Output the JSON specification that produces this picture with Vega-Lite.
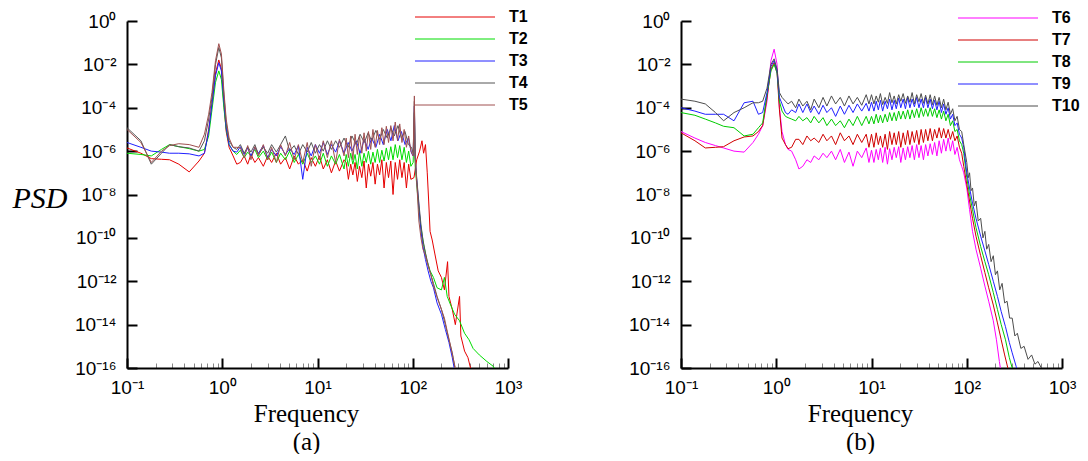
{
"$schema": "https://vega.github.io/schema/vega-lite/v6.json",
"background": "white",
"padding": {"left": 12, "top": 8, "right": 0, "bottom": 0},
"config": {"view": {"stroke": null}, "font": "Liberation Sans"},
"datasets": {
"a": [
{"s":"T1","f":0.1,"p":1.4e-6},{"s":"T1","f":0.14,"p":8e-7},{"s":"T1","f":0.18,"p":4.5e-7},{"s":"T1","f":0.23,"p":4.2e-7},{"s":"T1","f":0.28,"p":4e-7},{"s":"T1","f":0.35,"p":2.5e-7},{"s":"T1","f":0.45,"p":1.1e-7},{"s":"T1","f":0.57,"p":3.5e-7},{"s":"T1","f":0.65,"p":8e-7},{"s":"T1","f":0.72,"p":1e-5},{"s":"T1","f":0.78,"p":1.5e-4},{"s":"T1","f":0.85,"p":4e-3},{"s":"T1","f":0.92,"p":1.6e-2},{"s":"T1","f":0.98,"p":6e-3},{"s":"T1","f":1.04,"p":1.5e-4},{"s":"T1","f":1.1,"p":8e-6},{"s":"T1","f":1.18,"p":1.5e-6},{"s":"T1","f":1.3,"p":6e-7},{"s":"T1","f":1.42,"p":2.5e-7},{"s":"T1","f":1.55,"p":3e-7},{"s":"T1","f":1.7,"p":6e-7},{"s":"T1","f":1.85,"p":2.5e-7},{"s":"T1","f":2.0,"p":7e-7},{"s":"T1","f":2.2,"p":3e-7},{"s":"T1","f":2.4,"p":5e-7},{"s":"T1","f":2.7,"p":2e-7},{"s":"T1","f":3.0,"p":6e-7},{"s":"T1","f":3.3,"p":3e-7},{"s":"T1","f":3.7,"p":8e-7},{"s":"T1","f":4.1,"p":2.5e-7},{"s":"T1","f":4.6,"p":5e-7},{"s":"T1","f":5.1,"p":1.5e-7},{"s":"T1","f":5.7,"p":6e-7},{"s":"T1","f":6.3,"p":2.5e-7},{"s":"T1","f":7.0,"p":4e-7},{"s":"T1","f":7.8,"p":1.2e-7},{"s":"T1","f":8.6,"p":5e-7},{"s":"T1","f":9.5,"p":2e-7},{"s":"T1","f":10.5,"p":6e-7},{"s":"T1","f":11.5,"p":1.5e-7},{"s":"T1","f":12.7,"p":4e-7},{"s":"T1","f":14,"p":1e-7},{"s":"T1","f":15.5,"p":3.5e-7},{"s":"T1","f":17,"p":1.2e-7},{"s":"T1","f":19,"p":4e-7},
{"s":"T1","f":20,"p":3e-7},{"s":"T1","f":21.1,"p":5e-8},{"s":"T1","f":22.3,"p":2.5e-7},{"s":"T1","f":23.5,"p":8e-8},{"s":"T1","f":24.8,"p":3e-7},{"s":"T1","f":26.2,"p":4e-8},{"s":"T1","f":27.6,"p":2e-7},{"s":"T1","f":29.2,"p":6e-8},{"s":"T1","f":30.8,"p":3.5e-7},{"s":"T1","f":32.5,"p":2e-8},{"s":"T1","f":34.3,"p":2.5e-7},{"s":"T1","f":36.2,"p":7e-8},{"s":"T1","f":38.2,"p":3e-7},{"s":"T1","f":40.3,"p":3e-8},{"s":"T1","f":42.6,"p":2.5e-7},{"s":"T1","f":44.9,"p":8e-8},{"s":"T1","f":47.4,"p":4e-7},{"s":"T1","f":50,"p":2e-8},{"s":"T1","f":52.8,"p":3e-7},{"s":"T1","f":55.7,"p":6e-8},{"s":"T1","f":58.8,"p":3.5e-7},{"s":"T1","f":62.1,"p":1e-8},{"s":"T1","f":65.5,"p":3e-7},{"s":"T1","f":69.2,"p":5e-8},{"s":"T1","f":73,"p":4e-7},{"s":"T1","f":77,"p":6e-8},{"s":"T1","f":81.3,"p":3e-7},{"s":"T1","f":85.8,"p":2e-8},{"s":"T1","f":90.6,"p":2.5e-7},{"s":"T1","f":95.6,"p":5e-8},
{"s":"T1","f":103,"p":6e-8},{"s":"T1","f":110,"p":4e-7},{"s":"T1","f":118,"p":1e-6},{"s":"T1","f":125,"p":3e-6},{"s":"T1","f":130,"p":8e-7},{"s":"T1","f":136,"p":2e-6},{"s":"T1","f":142,"p":1e-7},{"s":"T1","f":147,"p":5e-9},{"s":"T1","f":152,"p":2e-10},{"s":"T1","f":160,"p":8e-11},{"s":"T1","f":170,"p":2e-11},{"s":"T1","f":185,"p":3e-12},{"s":"T1","f":200,"p":1.5e-12},{"s":"T1","f":215,"p":4e-13},{"s":"T1","f":232,"p":8e-12},{"s":"T1","f":240,"p":2e-13},{"s":"T1","f":260,"p":5e-14},{"s":"T1","f":280,"p":1e-14},{"s":"T1","f":310,"p":2e-13},{"s":"T1","f":320,"p":3e-15},{"s":"T1","f":350,"p":6e-16},{"s":"T1","f":380,"p":3e-16},{"s":"T1","f":420,"p":5e-17},
{"s":"T2","f":0.1,"p":8e-7},{"s":"T2","f":0.14,"p":7e-7},{"s":"T2","f":0.18,"p":6e-7},{"s":"T2","f":0.23,"p":1.2e-6},{"s":"T2","f":0.28,"p":2e-6},{"s":"T2","f":0.35,"p":1.6e-6},{"s":"T2","f":0.45,"p":1.3e-6},{"s":"T2","f":0.57,"p":1e-6},{"s":"T2","f":0.65,"p":1.2e-6},{"s":"T2","f":0.72,"p":5e-6},{"s":"T2","f":0.78,"p":8e-5},{"s":"T2","f":0.85,"p":1.5e-3},{"s":"T2","f":0.92,"p":5e-3},{"s":"T2","f":0.98,"p":2e-3},{"s":"T2","f":1.04,"p":1e-4},{"s":"T2","f":1.1,"p":1e-5},{"s":"T2","f":1.18,"p":2e-6},{"s":"T2","f":1.3,"p":1e-6},{"s":"T2","f":1.42,"p":7e-7},{"s":"T2","f":1.55,"p":1.1e-6},{"s":"T2","f":1.7,"p":5e-7},{"s":"T2","f":1.85,"p":9e-7},{"s":"T2","f":2.0,"p":6e-7},{"s":"T2","f":2.2,"p":1.2e-6},{"s":"T2","f":2.4,"p":5e-7},{"s":"T2","f":2.7,"p":1e-6},{"s":"T2","f":3.0,"p":4e-7},{"s":"T2","f":3.3,"p":9e-7},{"s":"T2","f":3.7,"p":3e-7},{"s":"T2","f":4.1,"p":8e-7},{"s":"T2","f":4.6,"p":4e-7},{"s":"T2","f":5.1,"p":1e-6},{"s":"T2","f":5.7,"p":3e-7},{"s":"T2","f":6.3,"p":7e-7},{"s":"T2","f":7.0,"p":2.5e-7},{"s":"T2","f":7.8,"p":8e-7},{"s":"T2","f":8.6,"p":3e-7},{"s":"T2","f":9.5,"p":6e-7},{"s":"T2","f":10.5,"p":2.5e-7},{"s":"T2","f":11.5,"p":8e-7},{"s":"T2","f":12.7,"p":2e-7},{"s":"T2","f":14,"p":6e-7},{"s":"T2","f":15.5,"p":2.5e-7},{"s":"T2","f":17,"p":7e-7},{"s":"T2","f":19,"p":1.5e-7},
{"s":"T2","f":20,"p":7e-7},{"s":"T2","f":21.1,"p":2e-7},{"s":"T2","f":22.3,"p":8e-7},{"s":"T2","f":23.5,"p":2.5e-7},{"s":"T2","f":24.8,"p":7e-7},{"s":"T2","f":26.2,"p":1.5e-7},{"s":"T2","f":27.6,"p":9e-7},{"s":"T2","f":29.2,"p":2e-7},{"s":"T2","f":30.8,"p":8e-7},{"s":"T2","f":32.5,"p":3e-7},{"s":"T2","f":34.3,"p":1e-6},{"s":"T2","f":36.2,"p":2.5e-7},{"s":"T2","f":38.2,"p":9e-7},{"s":"T2","f":40.3,"p":3e-7},{"s":"T2","f":42.6,"p":1.2e-6},{"s":"T2","f":44.9,"p":3e-7},{"s":"T2","f":47.4,"p":1.1e-6},{"s":"T2","f":50,"p":3.5e-7},{"s":"T2","f":52.8,"p":1.4e-6},{"s":"T2","f":55.7,"p":4e-7},{"s":"T2","f":58.8,"p":1.6e-6},{"s":"T2","f":62.1,"p":4e-7},{"s":"T2","f":65.5,"p":2e-6},{"s":"T2","f":69.2,"p":5e-7},{"s":"T2","f":73,"p":1.8e-6},{"s":"T2","f":77,"p":4e-7},{"s":"T2","f":81.3,"p":1.5e-6},{"s":"T2","f":85.8,"p":3e-7},{"s":"T2","f":90.6,"p":1e-6},{"s":"T2","f":95.6,"p":2e-7},
{"s":"T2","f":101,"p":3e-7},{"s":"T2","f":104,"p":6e-5},{"s":"T2","f":106,"p":2e-7},{"s":"T2","f":110,"p":3e-8},{"s":"T2","f":116,"p":2e-9},{"s":"T2","f":122,"p":3e-10},{"s":"T2","f":130,"p":5e-11},{"s":"T2","f":140,"p":1e-11},{"s":"T2","f":152,"p":3e-12},{"s":"T2","f":165,"p":1.5e-12},{"s":"T2","f":180,"p":5e-13},{"s":"T2","f":200,"p":4e-13},{"s":"T2","f":215,"p":1.5e-12},{"s":"T2","f":230,"p":2e-13},{"s":"T2","f":250,"p":8e-14},{"s":"T2","f":275,"p":3e-14},{"s":"T2","f":310,"p":1.5e-14},{"s":"T2","f":350,"p":4e-15},{"s":"T2","f":390,"p":2e-15},{"s":"T2","f":430,"p":8e-16},{"s":"T2","f":500,"p":4e-16},{"s":"T2","f":600,"p":2e-16},{"s":"T2","f":700,"p":1.2e-16},{"s":"T2","f":780,"p":5e-17},
{"s":"T3","f":0.1,"p":2.5e-6},{"s":"T3","f":0.14,"p":1.5e-6},{"s":"T3","f":0.18,"p":1e-6},{"s":"T3","f":0.23,"p":9e-7},{"s":"T3","f":0.28,"p":8e-7},{"s":"T3","f":0.35,"p":8e-7},{"s":"T3","f":0.45,"p":7.5e-7},{"s":"T3","f":0.57,"p":6e-7},{"s":"T3","f":0.65,"p":8e-7},{"s":"T3","f":0.72,"p":8e-6},{"s":"T3","f":0.78,"p":1.5e-4},{"s":"T3","f":0.85,"p":3e-3},{"s":"T3","f":0.92,"p":1.2e-2},{"s":"T3","f":0.98,"p":5e-3},{"s":"T3","f":1.04,"p":2e-4},{"s":"T3","f":1.1,"p":1.2e-5},{"s":"T3","f":1.18,"p":2e-6},{"s":"T3","f":1.3,"p":1e-6},{"s":"T3","f":1.42,"p":9e-7},{"s":"T3","f":1.55,"p":1.6e-6},{"s":"T3","f":1.7,"p":7e-7},{"s":"T3","f":1.85,"p":1.4e-6},{"s":"T3","f":2.0,"p":6e-7},{"s":"T3","f":2.2,"p":1.5e-6},{"s":"T3","f":2.4,"p":8e-7},{"s":"T3","f":2.7,"p":1.8e-6},{"s":"T3","f":3.0,"p":5e-7},{"s":"T3","f":3.3,"p":1.2e-6},{"s":"T3","f":3.7,"p":6e-7},{"s":"T3","f":4.1,"p":1.6e-6},{"s":"T3","f":4.6,"p":7e-7},{"s":"T3","f":5.1,"p":1.3e-6},{"s":"T3","f":5.7,"p":7e-7},{"s":"T3","f":6.3,"p":1.8e-6},{"s":"T3","f":7.0,"p":5e-8},{"s":"T3","f":7.8,"p":1.5e-6},{"s":"T3","f":8.6,"p":6e-7},{"s":"T3","f":9.5,"p":2e-6},{"s":"T3","f":10.5,"p":8e-7},{"s":"T3","f":11.5,"p":2.5e-6},{"s":"T3","f":12.7,"p":7e-7},{"s":"T3","f":14,"p":2e-6},{"s":"T3","f":15.5,"p":9e-7},{"s":"T3","f":17,"p":3e-6},{"s":"T3","f":19,"p":8e-7},{"s":"T3","f":21,"p":2.5e-6},{"s":"T3","f":23,"p":1e-6},{"s":"T3","f":25.5,"p":3e-6},{"s":"T3","f":28,"p":8e-7},{"s":"T3","f":31,"p":3.5e-6},{"s":"T3","f":34,"p":1.2e-6},{"s":"T3","f":37,"p":4e-6},{"s":"T3","f":41,"p":1.5e-6},{"s":"T3","f":45,"p":6e-6},{"s":"T3","f":49,"p":2e-6},{"s":"T3","f":54,"p":1e-5},{"s":"T3","f":59,"p":3e-6},{"s":"T3","f":64,"p":1.5e-5},{"s":"T3","f":70,"p":3e-6},{"s":"T3","f":76,"p":8e-6},{"s":"T3","f":83,"p":2e-6},{"s":"T3","f":90,"p":4e-6},{"s":"T3","f":97,"p":8e-7},{"s":"T3","f":101,"p":6e-7},{"s":"T3","f":104,"p":1.2e-4},{"s":"T3","f":106,"p":5e-7},{"s":"T3","f":110,"p":5e-8},{"s":"T3","f":116,"p":3e-9},{"s":"T3","f":122,"p":2e-10},{"s":"T3","f":128,"p":4e-11},{"s":"T3","f":136,"p":1e-11},{"s":"T3","f":145,"p":3e-12},{"s":"T3","f":155,"p":1e-12},{"s":"T3","f":165,"p":5e-13},{"s":"T3","f":180,"p":1e-13},{"s":"T3","f":200,"p":3e-14},{"s":"T3","f":220,"p":6e-15},{"s":"T3","f":240,"p":1.5e-15},{"s":"T3","f":260,"p":3e-16},{"s":"T3","f":280,"p":5e-17},
{"s":"T4","f":0.1,"p":1.2e-5},{"s":"T4","f":0.14,"p":3e-6},{"s":"T4","f":0.18,"p":2.5e-7},{"s":"T4","f":0.23,"p":8e-7},{"s":"T4","f":0.28,"p":2e-6},{"s":"T4","f":0.35,"p":1.6e-6},{"s":"T4","f":0.45,"p":1.4e-6},{"s":"T4","f":0.57,"p":1e-6},{"s":"T4","f":0.65,"p":3e-6},{"s":"T4","f":0.72,"p":3e-5},{"s":"T4","f":0.78,"p":3e-4},{"s":"T4","f":0.85,"p":1e-2},{"s":"T4","f":0.92,"p":6e-2},{"s":"T4","f":0.98,"p":2e-2},{"s":"T4","f":1.04,"p":4e-4},{"s":"T4","f":1.1,"p":2e-5},{"s":"T4","f":1.18,"p":3e-6},{"s":"T4","f":1.3,"p":1.5e-6},{"s":"T4","f":1.42,"p":1.2e-6},{"s":"T4","f":1.55,"p":2e-6},{"s":"T4","f":1.7,"p":8e-7},{"s":"T4","f":1.85,"p":1.6e-6},{"s":"T4","f":2.0,"p":9e-7},{"s":"T4","f":2.2,"p":2e-6},{"s":"T4","f":2.4,"p":7e-7},{"s":"T4","f":2.7,"p":1.5e-6},{"s":"T4","f":3.0,"p":8e-7},{"s":"T4","f":3.3,"p":2e-6},{"s":"T4","f":3.7,"p":9e-7},{"s":"T4","f":4.1,"p":2e-6},{"s":"T4","f":4.6,"p":5e-6},{"s":"T4","f":5.1,"p":1e-6},{"s":"T4","f":5.7,"p":1.8e-6},{"s":"T4","f":6.3,"p":7e-7},{"s":"T4","f":7.0,"p":2e-6},{"s":"T4","f":7.8,"p":9e-7},{"s":"T4","f":8.6,"p":2.5e-6},{"s":"T4","f":9.5,"p":8e-7},{"s":"T4","f":10.5,"p":2e-6},{"s":"T4","f":11.5,"p":1e-6},{"s":"T4","f":12.7,"p":3e-6},{"s":"T4","f":14,"p":1.2e-6},{"s":"T4","f":15.5,"p":3e-6},{"s":"T4","f":17,"p":1.5e-6},{"s":"T4","f":19,"p":4e-6},{"s":"T4","f":21,"p":1.5e-6},{"s":"T4","f":23,"p":5e-6},{"s":"T4","f":25.5,"p":2e-6},{"s":"T4","f":28,"p":6e-6},{"s":"T4","f":31,"p":2.5e-6},{"s":"T4","f":34,"p":7e-6},{"s":"T4","f":37,"p":3e-6},{"s":"T4","f":41,"p":9e-6},{"s":"T4","f":45,"p":3.5e-6},{"s":"T4","f":49,"p":1e-5},{"s":"T4","f":54,"p":4e-6},{"s":"T4","f":59,"p":1.2e-5},{"s":"T4","f":64,"p":5e-6},{"s":"T4","f":70,"p":1.5e-5},{"s":"T4","f":76,"p":4e-6},{"s":"T4","f":83,"p":8e-6},{"s":"T4","f":90,"p":2e-6},{"s":"T4","f":97,"p":1.5e-6},{"s":"T4","f":101,"p":8e-7},{"s":"T4","f":104,"p":2e-4},{"s":"T4","f":106,"p":6e-7},{"s":"T4","f":110,"p":6e-8},{"s":"T4","f":116,"p":4e-9},{"s":"T4","f":122,"p":4e-10},{"s":"T4","f":128,"p":8e-11},{"s":"T4","f":136,"p":2e-11},{"s":"T4","f":145,"p":6e-12},{"s":"T4","f":155,"p":2e-12},{"s":"T4","f":165,"p":8e-13},{"s":"T4","f":180,"p":2e-13},{"s":"T4","f":200,"p":5e-14},{"s":"T4","f":220,"p":1e-14},{"s":"T4","f":240,"p":2e-15},{"s":"T4","f":260,"p":5e-16},{"s":"T4","f":285,"p":5e-17},
{"s":"T5","f":0.1,"p":1e-5},{"s":"T5","f":0.14,"p":2.5e-6},{"s":"T5","f":0.18,"p":3e-7},{"s":"T5","f":0.23,"p":1e-6},{"s":"T5","f":0.28,"p":1.8e-6},{"s":"T5","f":0.35,"p":2.2e-6},{"s":"T5","f":0.45,"p":2e-6},{"s":"T5","f":0.57,"p":1.5e-6},{"s":"T5","f":0.65,"p":6e-6},{"s":"T5","f":0.72,"p":5e-5},{"s":"T5","f":0.78,"p":5e-4},{"s":"T5","f":0.85,"p":1.5e-2},{"s":"T5","f":0.92,"p":9e-2},{"s":"T5","f":0.98,"p":3e-2},{"s":"T5","f":1.04,"p":6e-4},{"s":"T5","f":1.1,"p":3e-5},{"s":"T5","f":1.18,"p":4e-6},{"s":"T5","f":1.3,"p":1.5e-6},{"s":"T5","f":1.42,"p":1.5e-6},{"s":"T5","f":1.55,"p":1.4e-6},{"s":"T5","f":1.7,"p":5e-7},{"s":"T5","f":1.85,"p":1.8e-6},{"s":"T5","f":2.0,"p":4e-7},{"s":"T5","f":2.2,"p":1.6e-6},{"s":"T5","f":2.4,"p":6e-7},{"s":"T5","f":2.7,"p":2e-6},{"s":"T5","f":3.0,"p":4e-7},{"s":"T5","f":3.3,"p":1.5e-6},{"s":"T5","f":3.7,"p":3e-7},{"s":"T5","f":4.1,"p":2e-6},{"s":"T5","f":4.6,"p":6e-7},{"s":"T5","f":5.1,"p":2.5e-6},{"s":"T5","f":5.7,"p":4e-7},{"s":"T5","f":6.3,"p":2e-6},{"s":"T5","f":7.0,"p":3e-7},{"s":"T5","f":7.8,"p":2.5e-6},{"s":"T5","f":8.6,"p":2e-7},{"s":"T5","f":9.5,"p":2e-6},{"s":"T5","f":10.5,"p":4e-7},{"s":"T5","f":11.5,"p":3e-6},{"s":"T5","f":12.7,"p":5e-7},{"s":"T5","f":14,"p":3e-6},{"s":"T5","f":15.5,"p":3e-7},{"s":"T5","f":17,"p":3.5e-6},{"s":"T5","f":19,"p":6e-7},
{"s":"T5","f":20,"p":4e-6},{"s":"T5","f":21.1,"p":5e-7},{"s":"T5","f":22.3,"p":5e-6},{"s":"T5","f":23.5,"p":4e-7},{"s":"T5","f":24.8,"p":6e-6},{"s":"T5","f":26.2,"p":7e-7},{"s":"T5","f":27.6,"p":5e-6},{"s":"T5","f":29.2,"p":8e-7},{"s":"T5","f":30.8,"p":7e-6},{"s":"T5","f":32.5,"p":1e-6},{"s":"T5","f":34.3,"p":8e-6},{"s":"T5","f":36.2,"p":1.2e-6},{"s":"T5","f":38.2,"p":1e-5},{"s":"T5","f":40.3,"p":1.5e-6},{"s":"T5","f":42.6,"p":9e-6},{"s":"T5","f":44.9,"p":2e-6},{"s":"T5","f":47.4,"p":1.2e-5},{"s":"T5","f":50,"p":2e-6},{"s":"T5","f":52.8,"p":1.4e-5},{"s":"T5","f":55.7,"p":2.5e-6},{"s":"T5","f":58.8,"p":1.5e-5},{"s":"T5","f":62.1,"p":3e-6},{"s":"T5","f":65.5,"p":2.2e-5},{"s":"T5","f":69.2,"p":3e-6},{"s":"T5","f":73,"p":1.8e-5},{"s":"T5","f":77,"p":2.5e-6},{"s":"T5","f":81.3,"p":1e-5},{"s":"T5","f":85.8,"p":1.5e-6},{"s":"T5","f":90.6,"p":5e-6},{"s":"T5","f":95.6,"p":1e-6},
{"s":"T5","f":101,"p":6e-7},{"s":"T5","f":104,"p":3.5e-4},{"s":"T5","f":106,"p":5e-7},{"s":"T5","f":110,"p":4e-8},{"s":"T5","f":116,"p":6e-10},{"s":"T5","f":122,"p":1e-10},{"s":"T5","f":128,"p":3e-11},{"s":"T5","f":136,"p":1.5e-11},{"s":"T5","f":145,"p":5e-12},{"s":"T5","f":155,"p":2e-12},{"s":"T5","f":165,"p":6e-13},{"s":"T5","f":182,"p":1.6e-13},{"s":"T5","f":200,"p":5e-14},{"s":"T5","f":215,"p":2e-14},{"s":"T5","f":230,"p":5e-15},{"s":"T5","f":250,"p":1e-15},{"s":"T5","f":265,"p":3e-16},{"s":"T5","f":280,"p":1e-16},{"s":"T5","f":295,"p":3e-17}
],
"b": [
{"s":"T6","f":0.1,"p":8e-6},{"s":"T6","f":0.14,"p":4e-6},{"s":"T6","f":0.18,"p":2.5e-6},{"s":"T6","f":0.23,"p":1.8e-6},{"s":"T6","f":0.28,"p":1.4e-6},{"s":"T6","f":0.36,"p":1e-6},{"s":"T6","f":0.46,"p":9e-7},{"s":"T6","f":0.57,"p":2.5e-6},{"s":"T6","f":0.65,"p":6e-6},{"s":"T6","f":0.72,"p":1.5e-5},{"s":"T6","f":0.8,"p":2e-4},{"s":"T6","f":0.88,"p":1.5e-2},{"s":"T6","f":0.95,"p":5e-2},{"s":"T6","f":1.02,"p":1e-2},{"s":"T6","f":1.08,"p":1e-4},{"s":"T6","f":1.15,"p":8e-6},{"s":"T6","f":1.25,"p":2e-6},{"s":"T6","f":1.33,"p":1.2e-6},{"s":"T6","f":1.45,"p":1e-6},{"s":"T6","f":1.6,"p":4e-7},{"s":"T6","f":1.73,"p":1.5e-7},{"s":"T6","f":1.9,"p":2e-7},{"s":"T6","f":2.1,"p":4e-7},{"s":"T6","f":2.3,"p":3e-7},{"s":"T6","f":2.5,"p":6e-7},{"s":"T6","f":2.8,"p":4e-7},{"s":"T6","f":3.1,"p":8e-7},{"s":"T6","f":3.4,"p":5e-7},{"s":"T6","f":3.8,"p":1e-6},{"s":"T6","f":4.2,"p":4e-7},{"s":"T6","f":4.7,"p":1.2e-6},{"s":"T6","f":5.2,"p":3e-7},{"s":"T6","f":5.8,"p":9e-7},{"s":"T6","f":6.4,"p":2e-7},{"s":"T6","f":7.1,"p":1e-6},{"s":"T6","f":7.9,"p":5e-7},{"s":"T6","f":8.8,"p":1.4e-6},{"s":"T6","f":9.4,"p":3e-7},
{"s":"T6","f":10,"p":1.1e-6},{"s":"T6","f":10.6,"p":3e-7},{"s":"T6","f":11.2,"p":1.2e-6},{"s":"T6","f":11.8,"p":4e-7},{"s":"T6","f":12.4,"p":1.4e-6},{"s":"T6","f":13.1,"p":3e-7},{"s":"T6","f":13.9,"p":1.5e-6},{"s":"T6","f":14.7,"p":2.5e-7},{"s":"T6","f":15.5,"p":1.3e-6},{"s":"T6","f":16.4,"p":4e-7},{"s":"T6","f":17.3,"p":1.5e-6},{"s":"T6","f":18.2,"p":5e-7},{"s":"T6","f":19.3,"p":1.6e-6},{"s":"T6","f":20.3,"p":3e-7},{"s":"T6","f":21.5,"p":1.4e-6},{"s":"T6","f":22.7,"p":4e-7},{"s":"T6","f":24,"p":1.6e-6},{"s":"T6","f":25.3,"p":5e-7},{"s":"T6","f":26.7,"p":1.8e-6},{"s":"T6","f":28.2,"p":4e-7},{"s":"T6","f":29.8,"p":2e-6},{"s":"T6","f":31.5,"p":5e-7},{"s":"T6","f":33.2,"p":1.8e-6},{"s":"T6","f":35.1,"p":4e-7},{"s":"T6","f":37,"p":2e-6},{"s":"T6","f":39.1,"p":6e-7},{"s":"T6","f":41.3,"p":2.2e-6},{"s":"T6","f":43.6,"p":7e-7},{"s":"T6","f":46,"p":2.5e-6},{"s":"T6","f":48.6,"p":6e-7},{"s":"T6","f":51.3,"p":3e-6},{"s":"T6","f":54.2,"p":8e-7},{"s":"T6","f":57.2,"p":3.5e-6},{"s":"T6","f":60.4,"p":1e-6},{"s":"T6","f":63.8,"p":4e-6},{"s":"T6","f":67.4,"p":1e-6},{"s":"T6","f":71.2,"p":3e-6},{"s":"T6","f":75.1,"p":7e-7},{"s":"T6","f":79.3,"p":1.5e-6},{"s":"T6","f":83.8,"p":4e-7},{"s":"T6","f":88.5,"p":2e-7},
{"s":"T6","f":93,"p":1e-7},{"s":"T6","f":100,"p":2e-8},{"s":"T6","f":107,"p":2e-9},{"s":"T6","f":115,"p":2e-10},{"s":"T6","f":125,"p":3e-11},{"s":"T6","f":140,"p":4e-12},{"s":"T6","f":155,"p":6e-13},{"s":"T6","f":170,"p":1.2e-13},{"s":"T6","f":190,"p":1.5e-14},{"s":"T6","f":205,"p":2e-15},{"s":"T6","f":220,"p":2e-16},{"s":"T6","f":235,"p":3e-17},
{"s":"T7","f":0.1,"p":7e-6},{"s":"T7","f":0.14,"p":3e-6},{"s":"T7","f":0.18,"p":1.4e-6},{"s":"T7","f":0.23,"p":1.5e-6},{"s":"T7","f":0.28,"p":1.6e-6},{"s":"T7","f":0.36,"p":3e-6},{"s":"T7","f":0.46,"p":4.5e-6},{"s":"T7","f":0.57,"p":5e-6},{"s":"T7","f":0.65,"p":8e-6},{"s":"T7","f":0.72,"p":1.5e-5},{"s":"T7","f":0.8,"p":3e-4},{"s":"T7","f":0.88,"p":6e-3},{"s":"T7","f":0.95,"p":1.2e-2},{"s":"T7","f":1.02,"p":4e-3},{"s":"T7","f":1.08,"p":8e-5},{"s":"T7","f":1.15,"p":4e-6},{"s":"T7","f":1.25,"p":2e-6},{"s":"T7","f":1.33,"p":1.3e-6},{"s":"T7","f":1.45,"p":1.5e-6},{"s":"T7","f":1.6,"p":3.5e-6},{"s":"T7","f":1.73,"p":3.5e-6},{"s":"T7","f":1.9,"p":2e-6},{"s":"T7","f":2.1,"p":5e-6},{"s":"T7","f":2.3,"p":3e-6},{"s":"T7","f":2.5,"p":4e-6},{"s":"T7","f":2.8,"p":2.5e-6},{"s":"T7","f":3.1,"p":6e-6},{"s":"T7","f":3.4,"p":3e-6},{"s":"T7","f":3.8,"p":5e-6},{"s":"T7","f":4.2,"p":2e-6},{"s":"T7","f":4.7,"p":7e-6},{"s":"T7","f":5.2,"p":3e-6},{"s":"T7","f":5.8,"p":5e-6},{"s":"T7","f":6.4,"p":2e-6},{"s":"T7","f":7.1,"p":6e-6},{"s":"T7","f":7.9,"p":2.5e-6},{"s":"T7","f":8.8,"p":6e-6},{"s":"T7","f":9.4,"p":1.5e-6},
{"s":"T7","f":10,"p":6e-6},{"s":"T7","f":10.6,"p":1.5e-6},{"s":"T7","f":11.2,"p":7e-6},{"s":"T7","f":11.8,"p":2e-6},{"s":"T7","f":12.4,"p":5e-6},{"s":"T7","f":13.1,"p":1.5e-6},{"s":"T7","f":13.9,"p":6e-6},{"s":"T7","f":14.7,"p":1.2e-6},{"s":"T7","f":15.5,"p":8e-6},{"s":"T7","f":16.4,"p":2e-6},{"s":"T7","f":17.3,"p":7e-6},{"s":"T7","f":18.2,"p":2e-6},{"s":"T7","f":19.3,"p":8e-6},{"s":"T7","f":20.3,"p":1.5e-6},{"s":"T7","f":21.5,"p":7e-6},{"s":"T7","f":22.7,"p":2e-6},{"s":"T7","f":24,"p":9e-6},{"s":"T7","f":25.3,"p":2e-6},{"s":"T7","f":26.7,"p":8e-6},{"s":"T7","f":28.2,"p":2.5e-6},{"s":"T7","f":29.8,"p":9e-6},{"s":"T7","f":31.5,"p":2e-6},{"s":"T7","f":33.2,"p":1e-5},{"s":"T7","f":35.1,"p":2.5e-6},{"s":"T7","f":37,"p":1e-5},{"s":"T7","f":39.1,"p":3e-6},{"s":"T7","f":41.3,"p":1.1e-5},{"s":"T7","f":43.6,"p":3e-6},{"s":"T7","f":46,"p":1e-5},{"s":"T7","f":48.6,"p":4e-6},{"s":"T7","f":51.3,"p":1.2e-5},{"s":"T7","f":54.2,"p":4e-6},{"s":"T7","f":57.2,"p":1.1e-5},{"s":"T7","f":60.4,"p":4e-6},{"s":"T7","f":63.8,"p":1e-5},{"s":"T7","f":67.4,"p":3.5e-6},{"s":"T7","f":71.2,"p":8e-6},{"s":"T7","f":75.1,"p":3e-6},{"s":"T7","f":79.3,"p":5e-6},{"s":"T7","f":83.8,"p":1.5e-6},{"s":"T7","f":88.5,"p":8e-7},
{"s":"T7","f":93,"p":2e-7},{"s":"T7","f":100,"p":3e-8},{"s":"T7","f":107,"p":5e-9},{"s":"T7","f":115,"p":8e-10},{"s":"T7","f":125,"p":1.2e-10},{"s":"T7","f":140,"p":1.5e-11},{"s":"T7","f":155,"p":2.5e-12},{"s":"T7","f":170,"p":5e-13},{"s":"T7","f":190,"p":8e-14},{"s":"T7","f":210,"p":1.2e-14},{"s":"T7","f":230,"p":2e-15},{"s":"T7","f":250,"p":4e-16},{"s":"T7","f":270,"p":1e-16},{"s":"T7","f":285,"p":3e-17},
{"s":"T8","f":0.1,"p":6e-5},{"s":"T8","f":0.14,"p":4.5e-5},{"s":"T8","f":0.18,"p":3e-5},{"s":"T8","f":0.23,"p":2e-5},{"s":"T8","f":0.28,"p":1.4e-5},{"s":"T8","f":0.36,"p":1.2e-5},{"s":"T8","f":0.46,"p":5e-6},{"s":"T8","f":0.57,"p":6e-6},{"s":"T8","f":0.65,"p":1.2e-5},{"s":"T8","f":0.72,"p":2e-5},{"s":"T8","f":0.8,"p":4e-4},{"s":"T8","f":0.88,"p":5e-3},{"s":"T8","f":0.95,"p":1e-2},{"s":"T8","f":1.02,"p":4e-3},{"s":"T8","f":1.08,"p":2e-4},{"s":"T8","f":1.15,"p":7e-5},{"s":"T8","f":1.25,"p":4e-5},{"s":"T8","f":1.33,"p":3.5e-5},{"s":"T8","f":1.45,"p":3e-5},{"s":"T8","f":1.6,"p":2.5e-5},{"s":"T8","f":1.73,"p":4e-5},{"s":"T8","f":1.9,"p":2.5e-5},{"s":"T8","f":2.1,"p":3.5e-5},{"s":"T8","f":2.3,"p":2e-5},{"s":"T8","f":2.5,"p":4e-5},{"s":"T8","f":2.8,"p":2e-5},{"s":"T8","f":3.1,"p":3.5e-5},{"s":"T8","f":3.4,"p":1.5e-5},{"s":"T8","f":3.8,"p":3e-5},{"s":"T8","f":4.2,"p":1.5e-5},{"s":"T8","f":4.7,"p":2.5e-5},{"s":"T8","f":5.2,"p":1.2e-5},{"s":"T8","f":5.8,"p":3e-5},{"s":"T8","f":6.4,"p":1.5e-5},{"s":"T8","f":7.1,"p":4e-5},{"s":"T8","f":7.9,"p":1.5e-5},{"s":"T8","f":8.8,"p":4e-5},{"s":"T8","f":9.4,"p":1.8e-5},
{"s":"T8","f":10,"p":4e-5},{"s":"T8","f":10.6,"p":1.8e-5},{"s":"T8","f":11.2,"p":5e-5},{"s":"T8","f":11.8,"p":2e-5},{"s":"T8","f":12.4,"p":4.5e-5},{"s":"T8","f":13.1,"p":2e-5},{"s":"T8","f":13.9,"p":5e-5},{"s":"T8","f":14.7,"p":2.2e-5},{"s":"T8","f":15.5,"p":6e-5},{"s":"T8","f":16.4,"p":2.5e-5},{"s":"T8","f":17.3,"p":6e-5},{"s":"T8","f":18.2,"p":2.5e-5},{"s":"T8","f":19.3,"p":7e-5},{"s":"T8","f":20.3,"p":3e-5},{"s":"T8","f":21.5,"p":7e-5},{"s":"T8","f":22.7,"p":3e-5},{"s":"T8","f":24,"p":8e-5},{"s":"T8","f":25.3,"p":3e-5},{"s":"T8","f":26.7,"p":8e-5},{"s":"T8","f":28.2,"p":3.5e-5},{"s":"T8","f":29.8,"p":9e-5},{"s":"T8","f":31.5,"p":3.5e-5},{"s":"T8","f":33.2,"p":1e-4},{"s":"T8","f":35.1,"p":4e-5},{"s":"T8","f":37,"p":9e-5},{"s":"T8","f":39.1,"p":4e-5},{"s":"T8","f":41.3,"p":1e-4},{"s":"T8","f":43.6,"p":4e-5},{"s":"T8","f":46,"p":9e-5},{"s":"T8","f":48.6,"p":3.5e-5},{"s":"T8","f":51.3,"p":8e-5},{"s":"T8","f":54.2,"p":3e-5},{"s":"T8","f":57.2,"p":7e-5},{"s":"T8","f":60.4,"p":2.5e-5},{"s":"T8","f":63.8,"p":5e-5},{"s":"T8","f":67.4,"p":1.5e-5},{"s":"T8","f":71.2,"p":2.5e-5},{"s":"T8","f":75.1,"p":8e-6},{"s":"T8","f":79.3,"p":1e-5},{"s":"T8","f":83.8,"p":3e-6},{"s":"T8","f":88.5,"p":2e-6},
{"s":"T8","f":93,"p":8e-7},{"s":"T8","f":100,"p":6e-8},{"s":"T8","f":107,"p":1e-8},{"s":"T8","f":115,"p":2e-9},{"s":"T8","f":125,"p":3e-10},{"s":"T8","f":140,"p":4e-11},{"s":"T8","f":155,"p":8e-12},{"s":"T8","f":170,"p":2e-12},{"s":"T8","f":190,"p":3e-13},{"s":"T8","f":210,"p":5e-14},{"s":"T8","f":230,"p":1e-14},{"s":"T8","f":255,"p":2e-15},{"s":"T8","f":280,"p":3e-16},{"s":"T8","f":300,"p":1e-16},{"s":"T8","f":320,"p":3e-17},
{"s":"T9","f":0.1,"p":1e-4},{"s":"T9","f":0.14,"p":7e-5},{"s":"T9","f":0.18,"p":5e-5},{"s":"T9","f":0.23,"p":5e-5},{"s":"T9","f":0.28,"p":5e-5},{"s":"T9","f":0.36,"p":2.5e-5},{"s":"T9","f":0.46,"p":1.7e-4},{"s":"T9","f":0.57,"p":2e-4},{"s":"T9","f":0.65,"p":5e-5},{"s":"T9","f":0.72,"p":6e-5},{"s":"T9","f":0.8,"p":5e-4},{"s":"T9","f":0.88,"p":8e-3},{"s":"T9","f":0.95,"p":1.5e-2},{"s":"T9","f":1.02,"p":5e-3},{"s":"T9","f":1.08,"p":3e-4},{"s":"T9","f":1.15,"p":1.5e-4},{"s":"T9","f":1.25,"p":6e-5},{"s":"T9","f":1.33,"p":5e-5},{"s":"T9","f":1.45,"p":8e-5},{"s":"T9","f":1.6,"p":6e-5},{"s":"T9","f":1.73,"p":1.5e-4},{"s":"T9","f":1.9,"p":6e-5},{"s":"T9","f":2.1,"p":1.5e-4},{"s":"T9","f":2.3,"p":6e-5},{"s":"T9","f":2.5,"p":1.2e-4},{"s":"T9","f":2.8,"p":5e-5},{"s":"T9","f":3.1,"p":1.3e-4},{"s":"T9","f":3.4,"p":6e-5},{"s":"T9","f":3.8,"p":1e-4},{"s":"T9","f":4.2,"p":4e-5},{"s":"T9","f":4.7,"p":1.2e-4},{"s":"T9","f":5.2,"p":5e-5},{"s":"T9","f":5.8,"p":1.3e-4},{"s":"T9","f":6.4,"p":6e-5},{"s":"T9","f":7.1,"p":1.5e-4},{"s":"T9","f":7.9,"p":7e-5},{"s":"T9","f":8.8,"p":1.6e-4},{"s":"T9","f":9.4,"p":7e-5},
{"s":"T9","f":10,"p":1.8e-4},{"s":"T9","f":10.6,"p":7e-5},{"s":"T9","f":11.2,"p":2e-4},{"s":"T9","f":11.8,"p":8e-5},{"s":"T9","f":12.4,"p":2.2e-4},{"s":"T9","f":13.1,"p":7e-5},{"s":"T9","f":13.9,"p":2e-4},{"s":"T9","f":14.7,"p":9e-5},{"s":"T9","f":15.5,"p":2.5e-4},{"s":"T9","f":16.4,"p":8e-5},{"s":"T9","f":17.3,"p":2.2e-4},{"s":"T9","f":18.2,"p":9e-5},{"s":"T9","f":19.3,"p":2.8e-4},{"s":"T9","f":20.3,"p":1e-4},{"s":"T9","f":21.5,"p":2.5e-4},{"s":"T9","f":22.7,"p":9e-5},{"s":"T9","f":24,"p":3e-4},{"s":"T9","f":25.3,"p":1e-4},{"s":"T9","f":26.7,"p":2.5e-4},{"s":"T9","f":28.2,"p":1.1e-4},{"s":"T9","f":29.8,"p":3e-4},{"s":"T9","f":31.5,"p":1e-4},{"s":"T9","f":33.2,"p":2.5e-4},{"s":"T9","f":35.1,"p":1e-4},{"s":"T9","f":37,"p":3e-4},{"s":"T9","f":39.1,"p":1e-4},{"s":"T9","f":41.3,"p":2.5e-4},{"s":"T9","f":43.6,"p":9e-5},{"s":"T9","f":46,"p":2.2e-4},{"s":"T9","f":48.6,"p":8e-5},{"s":"T9","f":51.3,"p":2e-4},{"s":"T9","f":54.2,"p":6e-5},{"s":"T9","f":57.2,"p":1.5e-4},{"s":"T9","f":60.4,"p":5e-5},{"s":"T9","f":63.8,"p":1e-4},{"s":"T9","f":67.4,"p":3e-5},{"s":"T9","f":71.2,"p":5e-5},{"s":"T9","f":75.1,"p":1.5e-5},{"s":"T9","f":79.3,"p":2e-5},{"s":"T9","f":83.8,"p":6e-6},{"s":"T9","f":88.5,"p":4e-6},
{"s":"T9","f":93,"p":1.5e-6},{"s":"T9","f":100,"p":1e-7},{"s":"T9","f":107,"p":2e-8},{"s":"T9","f":115,"p":4e-9},{"s":"T9","f":125,"p":8e-10},{"s":"T9","f":140,"p":1.2e-10},{"s":"T9","f":155,"p":2.5e-11},{"s":"T9","f":170,"p":6e-12},{"s":"T9","f":190,"p":1e-12},{"s":"T9","f":210,"p":2e-13},{"s":"T9","f":230,"p":4e-14},{"s":"T9","f":255,"p":8e-15},{"s":"T9","f":280,"p":1.5e-15},{"s":"T9","f":300,"p":5e-16},{"s":"T9","f":330,"p":1.2e-16},{"s":"T9","f":350,"p":4e-17},
{"s":"T10","f":0.1,"p":2.5e-4},{"s":"T10","f":0.14,"p":2e-4},{"s":"T10","f":0.18,"p":1.5e-4},{"s":"T10","f":0.23,"p":6e-5},{"s":"T10","f":0.28,"p":2.5e-5},{"s":"T10","f":0.36,"p":6e-5},{"s":"T10","f":0.46,"p":1e-4},{"s":"T10","f":0.57,"p":1.7e-4},{"s":"T10","f":0.65,"p":1.7e-4},{"s":"T10","f":0.72,"p":2e-4},{"s":"T10","f":0.8,"p":8e-4},{"s":"T10","f":0.88,"p":1e-2},{"s":"T10","f":0.95,"p":1.8e-2},{"s":"T10","f":1.02,"p":6e-3},{"s":"T10","f":1.08,"p":5e-4},{"s":"T10","f":1.15,"p":3e-4},{"s":"T10","f":1.25,"p":2e-4},{"s":"T10","f":1.33,"p":1.5e-4},{"s":"T10","f":1.45,"p":2e-4},{"s":"T10","f":1.6,"p":1e-4},{"s":"T10","f":1.73,"p":2.5e-4},{"s":"T10","f":1.9,"p":1.2e-4},{"s":"T10","f":2.1,"p":2e-4},{"s":"T10","f":2.3,"p":8e-5},{"s":"T10","f":2.5,"p":2.5e-4},{"s":"T10","f":2.8,"p":1e-4},{"s":"T10","f":3.1,"p":3e-4},{"s":"T10","f":3.4,"p":1.2e-4},{"s":"T10","f":3.8,"p":3.5e-4},{"s":"T10","f":4.2,"p":1.5e-4},{"s":"T10","f":4.7,"p":3e-4},{"s":"T10","f":5.2,"p":1.2e-4},{"s":"T10","f":5.8,"p":3.5e-4},{"s":"T10","f":6.4,"p":1.5e-4},{"s":"T10","f":7.1,"p":3e-4},{"s":"T10","f":7.9,"p":1.3e-4},{"s":"T10","f":8.8,"p":4e-4},{"s":"T10","f":9.4,"p":1.5e-4},
{"s":"T10","f":10,"p":4e-4},{"s":"T10","f":10.6,"p":1.5e-4},{"s":"T10","f":11.2,"p":3.5e-4},{"s":"T10","f":11.8,"p":1.8e-4},{"s":"T10","f":12.4,"p":4.5e-4},{"s":"T10","f":13.1,"p":1.4e-4},{"s":"T10","f":13.9,"p":3e-4},{"s":"T10","f":14.7,"p":1.6e-4},{"s":"T10","f":15.5,"p":5e-4},{"s":"T10","f":16.4,"p":1.7e-4},{"s":"T10","f":17.3,"p":3.5e-4},{"s":"T10","f":18.2,"p":1.5e-4},{"s":"T10","f":19.3,"p":4e-4},{"s":"T10","f":20.3,"p":2e-4},{"s":"T10","f":21.5,"p":4.5e-4},{"s":"T10","f":22.7,"p":1.6e-4},{"s":"T10","f":24,"p":3.5e-4},{"s":"T10","f":25.3,"p":1.8e-4},{"s":"T10","f":26.7,"p":5e-4},{"s":"T10","f":28.2,"p":1.5e-4},{"s":"T10","f":29.8,"p":4e-4},{"s":"T10","f":31.5,"p":1.9e-4},{"s":"T10","f":33.2,"p":4.5e-4},{"s":"T10","f":35.1,"p":1.6e-4},{"s":"T10","f":37,"p":3.8e-4},{"s":"T10","f":39.1,"p":1.5e-4},{"s":"T10","f":41.3,"p":4e-4},{"s":"T10","f":43.6,"p":1.4e-4},{"s":"T10","f":46,"p":3.5e-4},{"s":"T10","f":48.6,"p":1.3e-4},{"s":"T10","f":51.3,"p":3e-4},{"s":"T10","f":54.2,"p":1e-4},{"s":"T10","f":57.2,"p":2.5e-4},{"s":"T10","f":60.4,"p":8e-5},{"s":"T10","f":63.8,"p":1.8e-4},{"s":"T10","f":67.4,"p":5e-5},{"s":"T10","f":71.2,"p":9e-5},{"s":"T10","f":75.1,"p":2.5e-5},{"s":"T10","f":79.3,"p":4e-5},{"s":"T10","f":83.8,"p":1e-5},{"s":"T10","f":88.5,"p":8e-6},
{"s":"T10","f":93,"p":2e-6},{"s":"T10","f":100,"p":3e-7},{"s":"T10","f":104,"p":6e-8},{"s":"T10","f":107,"p":1e-7},{"s":"T10","f":111,"p":1.5e-8},{"s":"T10","f":115,"p":2e-8},{"s":"T10","f":120,"p":3e-9},{"s":"T10","f":125,"p":5e-9},{"s":"T10","f":132,"p":6e-10},{"s":"T10","f":140,"p":8e-10},{"s":"T10","f":148,"p":1e-10},{"s":"T10","f":155,"p":2e-10},{"s":"T10","f":162,"p":3e-11},{"s":"T10","f":170,"p":5e-11},{"s":"T10","f":180,"p":8e-12},{"s":"T10","f":190,"p":1.5e-11},{"s":"T10","f":200,"p":2e-12},{"s":"T10","f":210,"p":3e-12},{"s":"T10","f":222,"p":4e-13},{"s":"T10","f":235,"p":8e-13},{"s":"T10","f":250,"p":1e-13},{"s":"T10","f":265,"p":1.2e-13},{"s":"T10","f":282,"p":2e-14},{"s":"T10","f":300,"p":2e-14},{"s":"T10","f":320,"p":3e-15},{"s":"T10","f":340,"p":4e-15},{"s":"T10","f":370,"p":8e-16},{"s":"T10","f":400,"p":1e-15},{"s":"T10","f":440,"p":2.5e-16},{"s":"T10","f":480,"p":4e-16},{"s":"T10","f":520,"p":1.5e-16},{"s":"T10","f":560,"p":2e-16},{"s":"T10","f":600,"p":1.1e-16},{"s":"T10","f":640,"p":6e-17}
]
},
"spacing": 173,
"bounds": "flush",
"resolve": {"scale": {"color": "independent"}, "legend": {"color": "independent"}},
"hconcat": [
{
"width": 381, "height": 347,
"data": {"name": "a"},
"mark": {"type": "line", "strokeWidth": 1, "clip": true},
"encoding": {
"x": {"field": "f", "type": "quantitative", "scale": {"type": "log", "domain": [0.1, 1000], "nice": false},
 "axis": {"title": ["Frequency", "(a)"], "titleFont": "Liberation Serif", "titleFontSize": 25, "titleFontWeight": "normal", "titleColor": "black", "titleX": 179, "titleY": 53, "titleAlign": "center", "titleBaseline": "alphabetic", "titleLineHeight": 28,
 "values": [0.1,0.2,0.3,0.4,0.5,0.6,0.7,0.8,0.9,1,2,3,4,5,6,7,8,9,10,20,30,40,50,60,70,80,90,100,200,300,400,500,600,700,800,900,1000],
 "labelExpr": "abs(log(datum.value)/LN10-round(log(datum.value)/LN10))>0.01 ? '' : '10' + replace(replace(replace(replace(replace(replace(replace(replace(replace(replace(replace('' + round(log(datum.value)/LN10),'-','\u207b'),'0','\u2070'),'1','\u00b9'),'2','\u00b2'),'3','\u00b3'),'4','\u2074'),'5','\u2075'),'6','\u2076'),'7','\u2077'),'8','\u2078'),'9','\u2079')",
 "labelFont": "Liberation Sans", "labelFontSize": 19, "labelColor": "black", "labelPadding": 20, "labelBaseline": "top", "labelFlush": false, "labelOverlap": false,
 "tickSize": {"condition": {"test": "abs(log(datum.value)/LN10-round(log(datum.value)/LN10))<0.01", "value": -10}, "value": -5},
 "tickColor": {"condition": {"test": "abs(log(datum.value)/LN10-round(log(datum.value)/LN10))<0.01", "value": "black"}, "value": "#888888"},
 "tickWidth": {"condition": {"test": "abs(log(datum.value)/LN10-round(log(datum.value)/LN10))<0.01", "value": 2}, "value": 1},
 "domainColor": "black", "domainWidth": 2, "grid": false}},
"y": {"field": "p", "type": "quantitative", "scale": {"type": "log", "domain": [1e-16, 1], "nice": false},
 "axis": {"title": "PSD", "titleFont": "Liberation Serif", "titleFontStyle": "italic", "titleFontWeight": "normal", "titleFontSize": 30, "titleAngle": 0, "titleAlign": "left", "titleBaseline": "middle", "titleX": -115, "titleY": 177, "titleColor": "black",
 "values": [1,1e-2,1e-4,1e-6,1e-8,1e-10,1e-12,1e-14,1e-16],
 "labelExpr": "'10' + replace(replace(replace(replace(replace(replace(replace(replace(replace(replace(replace('' + round(log(datum.value)/LN10),'-','\u207b'),'0','\u2070'),'1','\u00b9'),'2','\u00b2'),'3','\u00b3'),'4','\u2074'),'5','\u2075'),'6','\u2076'),'7','\u2077'),'8','\u2078'),'9','\u2079')",
 "labelFont": "Liberation Sans", "labelFontSize": 19, "labelColor": "black", "labelPadding": 21, "labelFlush": false, "labelOverlap": false, "labelBaseline": "middle", "labelAlign": "right",
 "tickSize": -10, "tickColor": "black", "tickWidth": 2, "domainColor": "black", "domainWidth": 2, "grid": false}},
"color": {"field": "s", "type": "nominal", "scale": {"domain": ["T1","T2","T3","T4","T5"], "range": ["#e60000","#00dd00","#2020ff","#555555","#a05050"]},
 "legend": {"title": null, "orient": "none", "legendX": 319.5, "legendY": -12.5, "symbolType": "M-5,0H5", "symbolSize": 256, "symbolStrokeWidth": 1, "symbolOffset": 0, "labelFont": "Liberation Sans", "labelFontWeight": "bold", "labelFontSize": 16, "labelColor": "black", "labelOffset": 45.5, "rowPadding": 5, "padding": 0, "labelLimit": 100}}
}
},
{
"width": 381, "height": 347,
"data": {"name": "b"},
"mark": {"type": "line", "strokeWidth": 1, "clip": true},
"encoding": {
"x": {"field": "f", "type": "quantitative", "scale": {"type": "log", "domain": [0.1, 1000], "nice": false},
 "axis": {"title": ["Frequency", "(b)"], "titleFont": "Liberation Serif", "titleFontSize": 25, "titleFontWeight": "normal", "titleColor": "black", "titleX": 179, "titleY": 53, "titleAlign": "center", "titleBaseline": "alphabetic", "titleLineHeight": 28,
 "values": [0.1,0.2,0.3,0.4,0.5,0.6,0.7,0.8,0.9,1,2,3,4,5,6,7,8,9,10,20,30,40,50,60,70,80,90,100,200,300,400,500,600,700,800,900,1000],
 "labelExpr": "abs(log(datum.value)/LN10-round(log(datum.value)/LN10))>0.01 ? '' : '10' + replace(replace(replace(replace(replace(replace(replace(replace(replace(replace(replace('' + round(log(datum.value)/LN10),'-','\u207b'),'0','\u2070'),'1','\u00b9'),'2','\u00b2'),'3','\u00b3'),'4','\u2074'),'5','\u2075'),'6','\u2076'),'7','\u2077'),'8','\u2078'),'9','\u2079')",
 "labelFont": "Liberation Sans", "labelFontSize": 19, "labelColor": "black", "labelPadding": 20, "labelBaseline": "top", "labelFlush": false, "labelOverlap": false,
 "tickSize": {"condition": {"test": "abs(log(datum.value)/LN10-round(log(datum.value)/LN10))<0.01", "value": -10}, "value": -5},
 "tickColor": {"condition": {"test": "abs(log(datum.value)/LN10-round(log(datum.value)/LN10))<0.01", "value": "black"}, "value": "#888888"},
 "tickWidth": {"condition": {"test": "abs(log(datum.value)/LN10-round(log(datum.value)/LN10))<0.01", "value": 2}, "value": 1},
 "domainColor": "black", "domainWidth": 2, "grid": false}},
"y": {"field": "p", "type": "quantitative", "scale": {"type": "log", "domain": [1e-16, 1], "nice": false},
 "axis": {"title": null,
 "values": [1,1e-2,1e-4,1e-6,1e-8,1e-10,1e-12,1e-14,1e-16],
 "labelExpr": "'10' + replace(replace(replace(replace(replace(replace(replace(replace(replace(replace(replace('' + round(log(datum.value)/LN10),'-','\u207b'),'0','\u2070'),'1','\u00b9'),'2','\u00b2'),'3','\u00b3'),'4','\u2074'),'5','\u2075'),'6','\u2076'),'7','\u2077'),'8','\u2078'),'9','\u2079')",
 "labelFont": "Liberation Sans", "labelFontSize": 19, "labelColor": "black", "labelPadding": 21, "labelFlush": false, "labelOverlap": false, "labelBaseline": "middle", "labelAlign": "right",
 "tickSize": -10, "tickColor": "black", "tickWidth": 2, "domainColor": "black", "domainWidth": 2, "grid": false}},
"color": {"field": "s", "type": "nominal", "scale": {"domain": ["T6","T7","T8","T9","T10"], "range": ["#ff00ff","#d00000","#00cc00","#2020ff","#4d4d4d"]},
 "legend": {"title": null, "orient": "none", "legendX": 308.5, "legendY": -11.5, "symbolType": "M-5,0H5", "symbolSize": 256, "symbolStrokeWidth": 1, "symbolOffset": 0, "labelFont": "Liberation Sans", "labelFontWeight": "bold", "labelFontSize": 16, "labelColor": "black", "labelOffset": 45.5, "rowPadding": 5, "padding": 0, "labelLimit": 100}}
}
}
]
}
